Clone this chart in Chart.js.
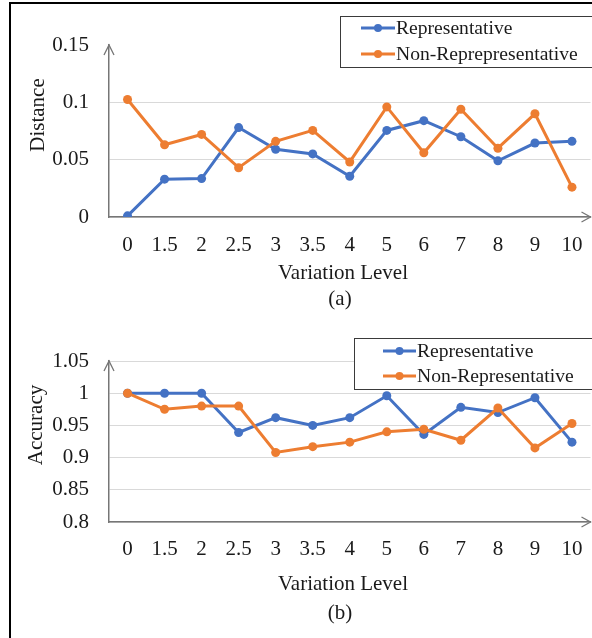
<!DOCTYPE html>
<html>
<head>
<meta charset="utf-8">
<script src="https://cdn.jsdelivr.net/npm/chart.js@4.4.1/dist/chart.umd.min.js"></script>
<style>
  html, body { margin: 0; padding: 0; background: #fff; }
  body { width: 592px; height: 638px; position: relative; overflow: hidden; }
  #frame { position: absolute; left: 9px; top: 2px; width: 700px; height: 700px;
           border-left: 2px solid #000; border-top: 2px solid #000; }
  .panel { position: absolute; left: 0; width: 595px; }
  #p1 { top: 0; height: 320px; }
  #p2 { top: 320px; height: 318px; }
</style>
</head>
<body>
<div id="frame"></div>
<div class="panel" id="p1"><canvas id="distChart"></canvas></div>
<div class="panel" id="p2"><canvas id="accChart"></canvas></div>
<script>
// data
const levels = ['0', '1.5', '2', '2.5', '3', '3.5', '4', '5', '6', '7', '8', '9', '10'];

const distRep    = [0.001, 0.033, 0.0335, 0.078, 0.059, 0.055, 0.0355, 0.0755, 0.084, 0.070, 0.049, 0.0645, 0.066];
const distNonRep = [0.1025, 0.063, 0.072, 0.043, 0.066, 0.0755, 0.048, 0.096, 0.056, 0.094, 0.060, 0.090, 0.026];

const accRep    = [1.0, 1.0, 1.0, 0.939, 0.962, 0.950, 0.962, 0.996, 0.936, 0.978, 0.970, 0.993, 0.924];
const accNonRep = [1.0, 0.975, 0.980, 0.980, 0.908, 0.917, 0.924, 0.940, 0.944, 0.927, 0.977, 0.915, 0.953];

const BLUE = '#4472C4';
const ORANGE = '#ED7D31';
const AXIS = '#767676';
const GRID = '#d9d9d9';
const TEXT = '#1a1a1a';
const FONT = '"Liberation Serif", "Times New Roman", serif';

function series(label, data, color, order) {
  return {
    label, data, order,
    borderColor: color, backgroundColor: color,
    borderWidth: 3, tension: 0,
    pointRadius: 4.5, pointBorderWidth: 0, pointBackgroundColor: color
  };
}

// arrows, axis titles, panel label and boxed legend
function decor(cfg) {
  return {
    id: 'decor',
    afterDraw(chart) {
      const ctx = chart.ctx, a = chart.chartArea;
      ctx.save();
      ctx.strokeStyle = AXIS;
      ctx.lineWidth = 1.3;
      ctx.beginPath();
      ctx.moveTo(a.left - 5, a.top + 10); ctx.lineTo(a.left, a.top); ctx.lineTo(a.left + 5, a.top + 10);
      ctx.moveTo(a.right - 9, a.bottom - 5); ctx.lineTo(a.right, a.bottom); ctx.lineTo(a.right - 9, a.bottom + 5);
      ctx.stroke();

      ctx.fillStyle = TEXT;
      ctx.font = '21px ' + FONT;
      ctx.textAlign = 'center';
      ctx.textBaseline = 'middle';
      ctx.fillText('Variation Level', 343, cfg.xTitleY);
      ctx.fillText(cfg.panel, 340, cfg.panelY);
      ctx.save();
      ctx.translate(cfg.yTitleX, cfg.yTitleY);
      ctx.rotate(-Math.PI / 2);
      ctx.fillText(cfg.yTitle, 0, 0);
      ctx.restore();

      const L = cfg.legend;
      ctx.fillStyle = '#fff';
      ctx.fillRect(L.x, L.y, 600 - L.x, L.h);
      ctx.strokeStyle = '#3a3a3a';
      ctx.lineWidth = 1;
      ctx.strokeRect(L.x + 0.5, L.y + 0.5, 600 - L.x, L.h);
      ctx.font = '19.6px ' + FONT;
      ctx.textAlign = 'left';
      chart.data.datasets.forEach((ds, i) => {
        const y = L.rows[i];
        ctx.strokeStyle = ds.borderColor;
        ctx.lineWidth = 3;
        ctx.beginPath();
        ctx.moveTo(L.x0, y); ctx.lineTo(L.x1, y);
        ctx.stroke();
        ctx.fillStyle = ds.borderColor;
        ctx.beginPath();
        ctx.arc((L.x0 + L.x1) / 2, y, 4, 0, Math.PI * 2);
        ctx.fill();
        ctx.fillStyle = TEXT;
        ctx.fillText(cfg.labels[i], L.x1 + 1, y + 1);
      });
      ctx.restore();
    }
  };
}

function makeChart(id, opt) {
  return new Chart(document.getElementById(id), {
    type: 'line',
    data: {
      labels: levels,
      datasets: [
        series(opt.labels[0], opt.rep, BLUE, 2),
        series(opt.labels[1], opt.nonRep, ORANGE, 1)
      ]
    },
    options: {
      responsive: true,
      maintainAspectRatio: false,
      animation: false,
      layout: { padding: { top: opt.top, right: 0, bottom: 0, left: 0 } },
      plugins: { legend: { display: false }, tooltip: { enabled: false } },
      scales: {
        x: {
          offset: true,
          grid: { display: false, drawTicks: false },
          border: { color: AXIS, width: 1.5 },
          ticks: { font: { family: FONT, size: 21 }, color: TEXT, padding: opt.tickPad,
                   maxRotation: 0, autoSkip: false },
          afterFit: s => { s.height = opt.xHeight; s.paddingLeft = 0; s.paddingRight = 0; }
        },
        y: {
          min: opt.min, max: opt.max,
          grid: {
            drawTicks: false,
            color: c => (opt.hideTopGrid && c.tick.value > opt.max - 1e-9) ? 'rgba(0,0,0,0)' : GRID
          },
          border: { color: AXIS, width: 1.5 },
          ticks: { stepSize: 0.05, padding: 20, font: { family: FONT, size: 21 }, color: TEXT,
                   callback: v => String(+v.toFixed(2)) },
          afterFit: s => { s.width = 109; s.paddingTop = 0; s.paddingBottom = 0; }
        }
      }
    },
    plugins: [decor(opt)]
  });
}

makeChart('distChart', {
  rep: distRep, nonRep: distNonRep,
  labels: ['Representative', 'Non-Reprepresentative'],
  min: 0, max: 0.15, hideTopGrid: true,
  top: 45, xHeight: 103, tickPad: 16,
  xTitleY: 273, panel: '(a)', panelY: 299,
  yTitle: 'Distance', yTitleX: 38, yTitleY: 115,
  legend: { x: 340, y: 16, h: 51, rows: [28, 54], x0: 361, x1: 395 }
});

makeChart('accChart', {
  rep: accRep, nonRep: accNonRep,
  labels: ['Representative', 'Non-Representative'],
  min: 0.8, max: 1.05, hideTopGrid: false,
  top: 41, xHeight: 116, tickPad: 15,
  xTitleY: 264, panel: '(b)', panelY: 293,
  yTitle: 'Accuracy', yTitleX: 36, yTitleY: 105,
  legend: { x: 354, y: 18, h: 51, rows: [31, 56], x0: 383, x1: 416 }
});
</script>
</body>
</html>
